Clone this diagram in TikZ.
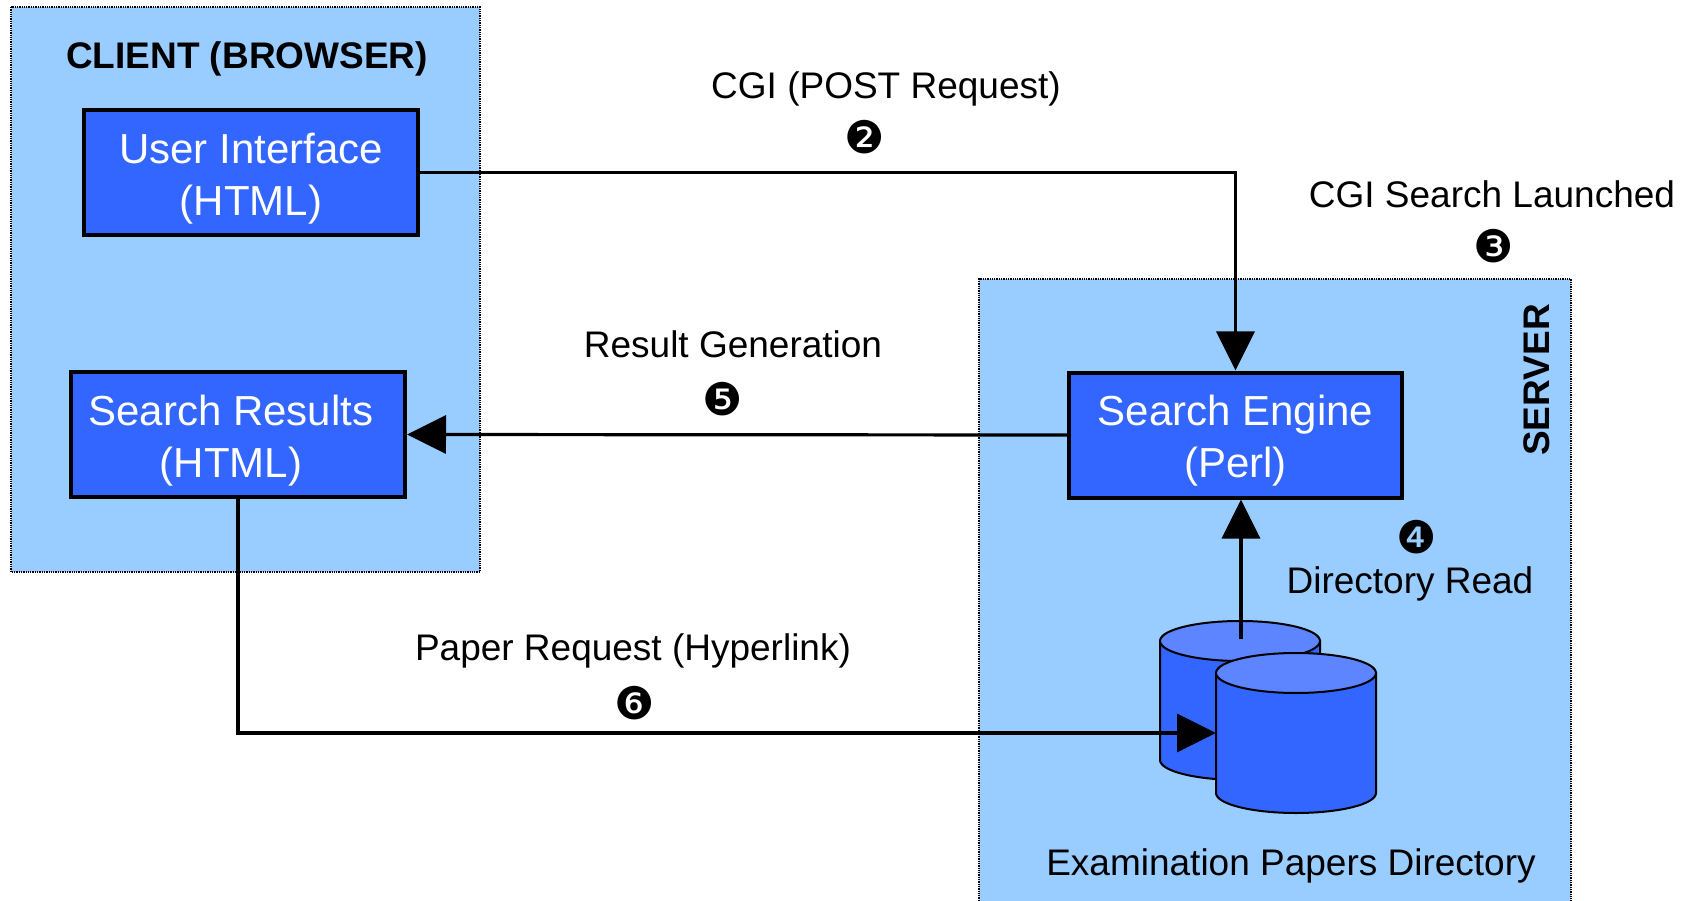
\documentclass[tikz,border=0pt]{standalone}
\usepackage{fontspec}
\setmainfont{Liberation Sans}
\newfontfamily\dingfont{DejaVu Sans}
\usetikzlibrary{arrows.meta}
\definecolor{regionblue}{HTML}{99CCFF}
\definecolor{boxblue}{HTML}{3366FF}
\definecolor{toptint}{HTML}{5C85FF}
\begin{document}
\begin{tikzpicture}[x=1pt,y=-1pt,
  region/.style={fill=regionblue},
  regionedge/.style={densely dotted, line width=1.3pt},
  compbox/.style={draw=black, line width=4pt, fill=boxblue, minimum height=125pt, inner sep=0pt},
  boxtext/.style={text=white, font=\fontsize{42}{52}\selectfont, align=center, inner sep=0pt},
  lbl/.style={font=\fontsize{37}{44}\selectfont, anchor=base, inner sep=0pt},
  num/.style={font=\dingfont\fontsize{45}{50}\selectfont, inner sep=0pt},
  conn/.style={line width=3.2pt, -{Triangle[length=39pt,width=38pt]}},
  cyl/.style={draw=black, line width=2pt}
]
\useasboundingbox (0,0) rectangle (1695,901);
\fill[white] (0,0) rectangle (1695,901);

% regions
\fill[region] (11,7) rectangle (480,572);
\draw[regionedge] (11,7) rectangle (480,572);
\fill[region] (979,279) rectangle (1571,901);
\draw[regionedge] (979,901) -- (979,279) -- (1571,279) -- (1571,901);

\node[font=\bfseries\fontsize{37}{44}\selectfont, anchor=base, inner sep=0pt] (clientlbl) at (247,69) {CLIENT (BROWSER)};
\node[font=\bfseries\fontsize{37}{44}\selectfont, rotate=90, inner sep=0pt] (serverlbl) at (1537,380) {SERVER};

% component boxes
\node[compbox, minimum width=334pt] (ui) at (251,172.5) {};
\node[boxtext] (uitext) at ([shift={(0,6)}]ui.center) {User Interface\\(HTML)};
\node[compbox, minimum width=334pt] (sr) at (238,434.5) {};
\node[boxtext] (srtext) at ([shift={(-7,6)}]sr.center) {Search Results\\(HTML)};
\node[compbox, minimum width=333pt] (se) at (1235.5,435) {};
\node[boxtext] (setext) at ([shift={(0,6)}]se.center) {Search Engine\\(Perl)};

% database cylinders
\path[cyl, fill=boxblue] (1160,641) -- (1160,760) arc[start angle=180, end angle=0, x radius=80, y radius=20] -- (1320,641) -- cycle;
\draw[cyl, fill=toptint] (1240,641) ellipse [x radius=80, y radius=20];
\coordinate (dbback) at (1241,639);
\path[cyl, fill=boxblue] (1216,673) -- (1216,793) arc[start angle=180, end angle=0, x radius=80, y radius=20] -- (1376,673) -- cycle;
\draw[cyl, fill=toptint] (1296,673) ellipse [x radius=80, y radius=20];
\coordinate (dbfront) at (1216,733);

% connectors
\draw[conn] (ui.east) -| (se.north);
\draw[conn] (se.west) -- (sr.east);
\draw[conn] (sr.south) |- (dbfront);
\draw[conn] (dbback) -- (dbback |- se.south);

% labels
\node[lbl] (l2) at (886,99) {CGI (POST Request)};
\node[num] (n2) at (865,137) {❷};
\node[lbl] (l3) at (1492,208) {CGI Search Launched};
\node[num] (n3) at (1494,246) {❸};
\node[lbl] (l5) at (733,357) {Result Generation};
\node[num] (n5) at (723,399) {❺};
\node[lbl] (l6) at (633,660) {Paper Request (Hyperlink)};
\node[num] (n6) at (635,703) {❻};
\node[num] (n4) at (1417,537) {❹};
\node[lbl] (l4) at (1410,593) {Directory Read};
\node[lbl] (ldb) at (1291,875) {Examination Papers Directory};
\end{tikzpicture}
\end{document}
